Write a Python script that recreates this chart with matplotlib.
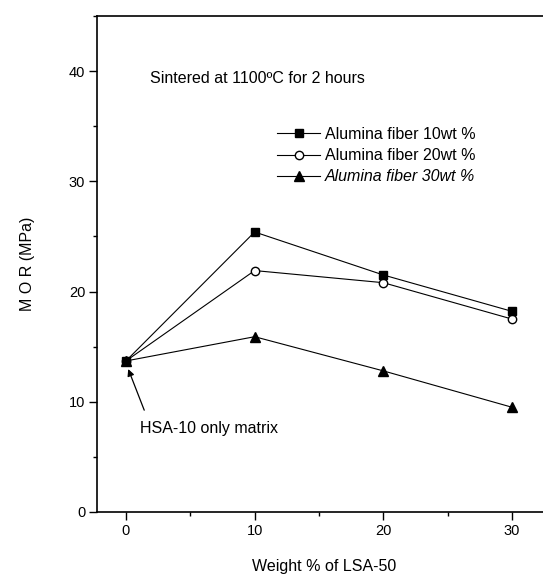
import numpy as np
import matplotlib.pyplot as plt
from matplotlib.ticker import MultipleLocator

plt.rcParams['font.family'] = ['Liberation Sans', 'DejaVu Sans']

# datos
lsa = [0, 10, 20, 30]
fib10 = [13.7, 25.4, 21.5, 18.2]
fib20 = [13.7, 21.9, 20.8, 17.5]
fib30 = [13.7, 15.9, 12.8, 9.5]
etiquetas = ['Alumina fiber 10wt %', 'Alumina fiber 20wt %', 'Alumina fiber 30wt %']

fig = plt.figure(figsize=(5.43, 5.85), dpi=100)
ax = fig.add_axes([0.1786, 0.1248, 0.8355, 0.848])

# el cuadrado queda encima en x=0
ax.plot(lsa, fib10, '-s', color='black', lw=0.8, ms=6, mfc='black', label=etiquetas[0], zorder=4)
ax.plot(lsa, fib20, '-o', color='black', lw=0.8, ms=6, mfc='white', label=etiquetas[1], zorder=2)
ax.plot(lsa, fib30, '-^', color='black', lw=0.8, ms=6.5, mfc='black', label=etiquetas[2], zorder=3)

ax.set_xlim(-2.25, 33)
ax.set_ylim(0, 45)
ax.set_xticks([0, 10, 20, 30])
ax.set_yticks([0, 10, 20, 30, 40])
ax.xaxis.set_minor_locator(MultipleLocator(5))
ax.yaxis.set_minor_locator(MultipleLocator(5))
ax.tick_params(which='major', length=6, width=1, labelsize=10.5, direction='out', pad=2.5)
ax.tick_params(which='minor', length=3, width=1, direction='out')
for s in ax.spines.values():
    s.set_linewidth(1.2)

ax.set_xlabel('Weight % of LSA-50', fontsize=11.5, labelpad=15)
ax.set_ylabel('M O R (MPa)', fontsize=11.5, labelpad=24)

leg = ax.legend(loc='upper left', bbox_to_anchor=(0.397, 0.776), frameon=False,
                fontsize=11.5, handlelength=2.7, handletextpad=0.3,
                borderpad=0, borderaxespad=0, labelspacing=0.39)
leg.get_texts()[2].set_style('italic')

ax.text(1.86, 39.3, 'Sintered at 1100ºC for 2 hours', fontsize=11.5, va='center')

ax.annotate('', xy=(0.1, 13.2), xytext=(1.5, 9.0),
            arrowprops=dict(arrowstyle='-|>', color='black', lw=0.9, mutation_scale=10))
ax.text(1.09, 7.6, 'HSA-10 only matrix', fontsize=11.5, va='center')

plt.savefig('out.png', dpi=100)
